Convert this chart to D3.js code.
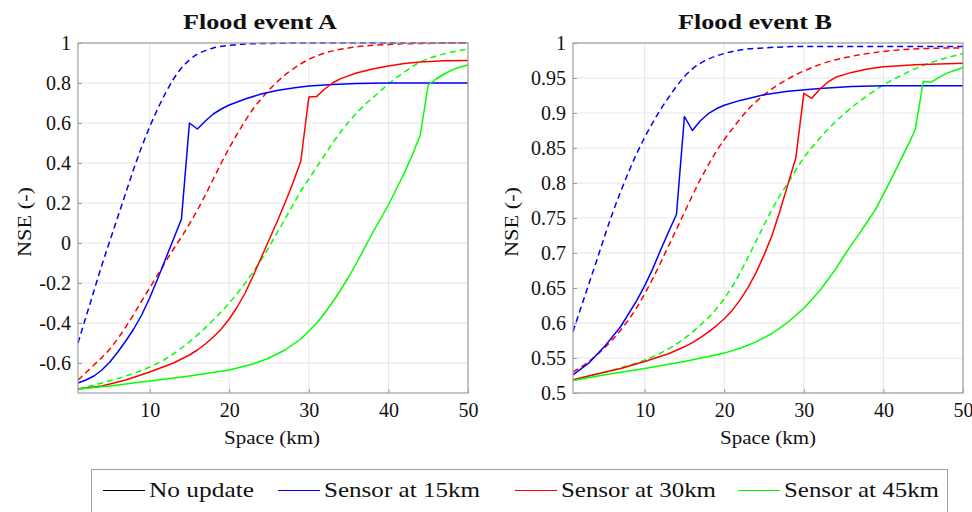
<html>
<head>
  <meta charset="utf-8">
  <script src="https://d3js.org/d3.v7.min.js"></script>
  <style>
  body { margin: 0; background: #fff; }
  text { font-family: "Liberation Serif", "Times New Roman", serif; fill: #111; }
  </style>
</head>
<body>
<div id="chart"></div>
<script>
// ---- data ----
const kmTicks = [10, 20, 30, 40, 50];
const nseTicksA = [-0.6, -0.4, -0.2, 0, 0.2, 0.4, 0.6, 0.8, 1];
const nseTicksB = [0.5, 0.55, 0.6, 0.65, 0.7, 0.75, 0.8, 0.85, 0.9, 0.95, 1];
const legendLabels = ["No update", "Sensor at 15km", "Sensor at 30km", "Sensor at 45km"];
const legendColors = ["#000000", "#0000ff", "#ff0000", "#00ff00"];

// Flood event A
const kmBlueDashA = [1,2,3,4,5,6,7,8,9,10,11,12,13,14,15,16,17,18,20,22,25,30,40,50];
const nseBlueDashA = [-0.5,-0.37,-0.24,-0.11,0.01,0.13,0.25,0.37,0.48,0.58,0.67,0.75,0.82,0.875,0.915,0.945,0.962,0.975,0.988,0.995,0.998,1,1,1];
const kmRedDashA = [1,3,5,7,9,11,13,14,15,16,17,18,19,20,21,22,23,24,25,26,27,28,30,32,35,40,45,50];
const nseRedDashA = [-0.685,-0.61,-0.53,-0.42,-0.29,-0.16,-0.03,0.03,0.095,0.165,0.24,0.32,0.40,0.475,0.545,0.61,0.67,0.72,0.765,0.805,0.84,0.87,0.918,0.95,0.975,0.993,0.998,1];
const kmGreenDashA = [1,4,7,10,12,14,16,18,20,22,24,25,26,27,28,29,30,31,32,33,34,35,36,37,38,39,40,42,44,46,48,50];
const nseGreenDashA = [-0.73,-0.70,-0.665,-0.62,-0.58,-0.525,-0.46,-0.385,-0.3,-0.2,-0.085,-0.02,0.05,0.12,0.19,0.26,0.32,0.38,0.44,0.5,0.555,0.605,0.65,0.69,0.725,0.76,0.795,0.855,0.905,0.935,0.955,0.97];
const kmBlueA = [1,2,3,4,5,6,7,8,9,10,11,12,13,14,15,16,17,18,19,20,22,24,26,28,30,33,36,40,50];
const nseBlueA = [-0.70,-0.685,-0.665,-0.635,-0.595,-0.545,-0.49,-0.43,-0.36,-0.275,-0.18,-0.08,0.02,0.12,0.60,0.57,0.61,0.645,0.67,0.69,0.72,0.745,0.762,0.775,0.785,0.793,0.797,0.80,0.80];
const kmRedA = [1,4,7,10,13,15,16,17,18,19,20,21,22,23,24,25,26,27,28,29,30,31,32,33,34,36,38,40,42,44,47,50];
const nseRedA = [-0.73,-0.715,-0.685,-0.645,-0.6,-0.56,-0.535,-0.505,-0.47,-0.43,-0.38,-0.32,-0.25,-0.165,-0.075,0.015,0.105,0.2,0.3,0.41,0.73,0.733,0.77,0.80,0.822,0.85,0.87,0.885,0.897,0.905,0.911,0.913];
const kmGreenA = [1,5,10,15,20,23,25,27,29,30,31,32,33,34,35,36,37,38,39,40,41,42,43,44,45,46,47,48,49,50];
const nseGreenA = [-0.73,-0.715,-0.69,-0.665,-0.635,-0.605,-0.575,-0.535,-0.48,-0.44,-0.4,-0.35,-0.295,-0.235,-0.17,-0.1,-0.025,0.05,0.12,0.19,0.27,0.35,0.44,0.54,0.79,0.82,0.845,0.865,0.88,0.89];

// Flood event B
const kmBlueDashB = [1,2,3,4,5,6,7,8,9,10,11,12,13,14,15,16,17,18,20,22,25,30,40,50];
const nseBlueDashB = [0.588,0.622,0.656,0.69,0.725,0.758,0.788,0.816,0.842,0.865,0.886,0.905,0.922,0.938,0.952,0.963,0.971,0.977,0.985,0.99,0.993,0.995,0.995,0.995];
const kmRedDashB = [1,3,5,7,9,11,13,15,16,17,18,19,20,21,23,25,27,30,33,36,40,45,50];
const nseRedDashB = [0.53,0.545,0.565,0.59,0.622,0.663,0.71,0.758,0.782,0.805,0.826,0.845,0.862,0.877,0.905,0.926,0.942,0.96,0.973,0.981,0.988,0.992,0.993];
const kmGreenDashB = [1,4,7,10,13,15,17,19,20,21,22,23,24,25,26,27,28,30,32,35,38,40,43,45,48,50];
const nseGreenDashB = [0.518,0.527,0.536,0.547,0.563,0.578,0.597,0.62,0.635,0.652,0.672,0.694,0.717,0.74,0.762,0.782,0.8,0.836,0.864,0.898,0.925,0.94,0.958,0.968,0.979,0.985];
const kmBlueB = [1,3,5,7,9,10,11,12,13,14,15,16,17,18,19,20,22,25,28,32,36,40,50];
const nseBlueB = [0.526,0.543,0.567,0.595,0.632,0.653,0.677,0.704,0.73,0.755,0.895,0.875,0.889,0.899,0.906,0.911,0.918,0.926,0.931,0.935,0.938,0.939,0.939];
const kmRedB = [1,4,7,10,13,15,16,17,18,19,20,21,22,23,24,25,26,27,28,29,30,31,32,33,34,36,38,40,44,50];
const nseRedB = [0.519,0.527,0.535,0.545,0.556,0.566,0.572,0.579,0.587,0.596,0.606,0.618,0.633,0.651,0.672,0.697,0.725,0.76,0.798,0.836,0.928,0.921,0.934,0.944,0.951,0.958,0.963,0.966,0.969,0.971];
const kmGreenB = [1,5,10,15,18,20,22,24,26,28,30,32,34,35,36,37,38,39,40,41,42,43,44,45,46,47,48,49,50];
const nseGreenB = [0.518,0.526,0.535,0.545,0.552,0.557,0.564,0.573,0.585,0.601,0.621,0.646,0.677,0.695,0.712,0.728,0.745,0.762,0.784,0.806,0.829,0.852,0.876,0.945,0.944,0.951,0.957,0.961,0.965];

const W = 972, H = 512;
const FONT = '"Liberation Serif", "Times New Roman", serif';

const svg = d3.select("#chart").append("svg")
  .attr("width", W)
  .attr("height", H)
  .attr("font-family", FONT);

function zip(xs, ys) {
  return xs.map((x, i) => [x, ys[i]]);
}

function drawPanel(opts) {
  const x = d3.scaleLinear().domain([1, 50]).range([opts.left, opts.right]);
  const y = d3.scaleLinear().domain(opts.yDomain).range([393, 43]);
  const g = svg.append("g");

  // grid
  g.selectAll(".vgrid").data(kmTicks).enter().append("line")
    .attr("x1", d => x(d)).attr("x2", d => x(d))
    .attr("y1", y.range()[1]).attr("y2", y.range()[0])
    .style("stroke", "#e6e6e6").style("stroke-width", 1);
  g.selectAll(".hgrid").data(opts.yTicks).enter().append("line")
    .attr("x1", opts.left).attr("x2", opts.right)
    .attr("y1", d => y(d)).attr("y2", d => y(d))
    .style("stroke", "#e6e6e6").style("stroke-width", 1);

  // axes (MATLAB style, ticks pointing in)
  const xAxis = g.append("g").attr("transform", `translate(0,393)`)
    .call(d3.axisBottom(x).tickValues(kmTicks).tickSize(-4).tickPadding(10).tickFormat(d => String(d)));
  const yAxis = g.append("g").attr("transform", `translate(${opts.left},0)`)
    .call(d3.axisLeft(y).tickValues(opts.yTicks).tickSize(-4).tickPadding(7).tickFormat(d => String(+d.toFixed(2))));
  [xAxis, yAxis].forEach(a => {
    a.attr("font-family", FONT);
    a.select(".domain").remove();
    a.selectAll(".tick line").style("stroke", "#9a9a9a");
    a.selectAll("text").style("font-size", "20px").style("fill", "#111")
      .style("font-family", FONT);
  });
  yAxis.selectAll("text").attr("dy", "0.33em");
  xAxis.selectAll("text").attr("dy", "0.72em");

  // lines
  const line = d3.line().x(d => x(d[0])).y(d => y(d[1]));
  const smooth = d3.line().x(d => x(d[0])).y(d => y(d[1])).curve(d3.curveMonotoneX);
  opts.series.forEach(s => {
    g.append("path")
      .datum(zip(s.km, s.nse))
      .attr("d", s.dash ? smooth : line)
      .attr("fill", "none")
      .attr("stroke", s.color)
      .attr("stroke-width", 1.5)
      .attr("stroke-linejoin", "round")
      .attr("stroke-dasharray", s.dash ? "6,4" : null);
  });

  // box
  g.append("rect")
    .attr("x", opts.left).attr("y", 43)
    .attr("width", opts.right - opts.left).attr("height", 350)
    .attr("fill", "none").attr("stroke", "#a0a0a0").attr("stroke-width", 1.2);

  // title
  g.append("text")
    .attr("x", opts.titleX).attr("y", 29)
    .attr("text-anchor", "middle")
    .attr("textLength", 154).attr("lengthAdjust", "spacingAndGlyphs")
    .style("font-size", "21px").style("font-weight", "bold")
    .text(opts.title);

  // axis labels
  g.append("text")
    .attr("x", opts.xLabelX).attr("y", 444)
    .attr("text-anchor", "middle")
    .attr("textLength", 96).attr("lengthAdjust", "spacingAndGlyphs")
    .style("font-size", "19px")
    .text("Space (km)");
  g.append("text")
    .attr("transform", `translate(${opts.yLabelX},222) rotate(-90)`)
    .attr("text-anchor", "middle")
    .attr("textLength", 70).attr("lengthAdjust", "spacingAndGlyphs")
    .style("font-size", "19px")
    .text("NSE (-)");
}

drawPanel({
  title: "Flood event A", titleX: 260,
  left: 78, right: 468,
  yDomain: [-0.75, 1], yTicks: nseTicksA,
  xLabelX: 272, yLabelX: 31,
  series: [
    {km: kmBlueDashA, nse: nseBlueDashA, color: "#0000ff", dash: true},
    {km: kmRedDashA, nse: nseRedDashA, color: "#ff0000", dash: true},
    {km: kmGreenDashA, nse: nseGreenDashA, color: "#00ff00", dash: true},
    {km: kmBlueA, nse: nseBlueA, color: "#0000ff"},
    {km: kmRedA, nse: nseRedA, color: "#ff0000"},
    {km: kmGreenA, nse: nseGreenA, color: "#00ff00"}
  ]
});

drawPanel({
  title: "Flood event B", titleX: 755,
  left: 573, right: 963,
  yDomain: [0.5, 1], yTicks: nseTicksB,
  xLabelX: 768, yLabelX: 518,
  series: [
    {km: kmBlueDashB, nse: nseBlueDashB, color: "#0000ff", dash: true},
    {km: kmRedDashB, nse: nseRedDashB, color: "#ff0000", dash: true},
    {km: kmGreenDashB, nse: nseGreenDashB, color: "#00ff00", dash: true},
    {km: kmBlueB, nse: nseBlueB, color: "#0000ff"},
    {km: kmRedB, nse: nseRedB, color: "#ff0000"},
    {km: kmGreenB, nse: nseGreenB, color: "#00ff00"}
  ]
});

// legend
const legend = svg.append("g");
legend.append("rect")
  .attr("x", 91.5).attr("y", 469.5)
  .attr("width", 856).attr("height", 60)
  .attr("fill", "#fff").attr("stroke", "#a0a0a0").attr("stroke-width", 1);

const legendLineX = [103, 278, 515, 738];
const legendTextW = [105, 156, 155, 155];
legendLabels.forEach((lab, i) => {
  legend.append("line")
    .attr("x1", legendLineX[i]).attr("x2", legendLineX[i] + 42)
    .attr("y1", 490.5).attr("y2", 490.5)
    .style("stroke", legendColors[i]).style("stroke-width", 1.2);
  legend.append("text")
    .attr("x", legendLineX[i] + 46).attr("y", 497)
    .attr("textLength", legendTextW[i]).attr("lengthAdjust", "spacingAndGlyphs")
    .style("font-size", "22px")
    .text(lab);
});
</script>
</body>
</html>
